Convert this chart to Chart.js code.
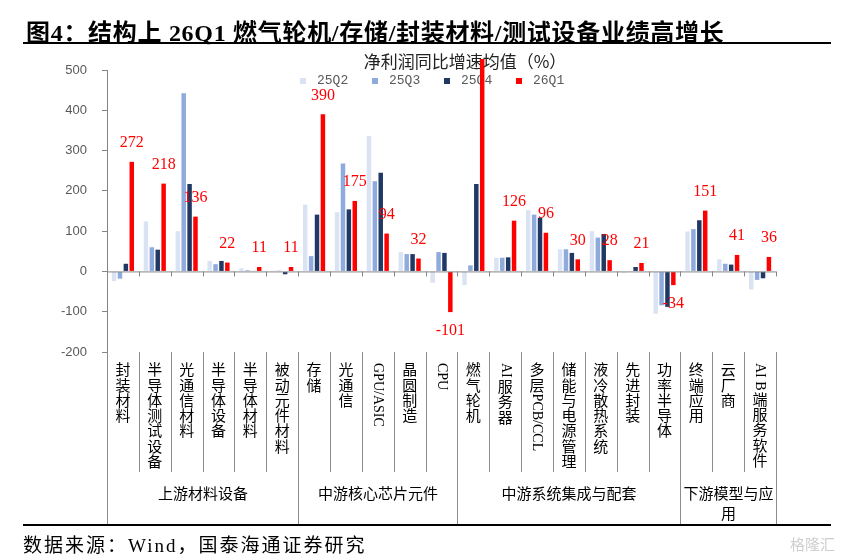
<!DOCTYPE html>
<html>
<head>
<meta charset="utf-8">
<script src="https://cdn.jsdelivr.net/npm/chart.js@4.4.1/dist/chart.umd.min.js"></script>
<style>
  body { margin: 0; background: #fff; }
  #wrap { position: relative; width: 852px; height: 558px; overflow: hidden; }
  #fig-title { position: absolute; left: 26px; top: 13px; line-height: 1; white-space: nowrap;
    font: bold 24px "Liberation Serif", "Noto Sans CJK SC"; letter-spacing: 0.7px; color: #000; }
  .rule { position: absolute; left: 23px; width: 808px; height: 2px; background: #000; }
  #source { position: absolute; left: 23px; top: 530px; line-height: 1; white-space: nowrap;
    font: 19px "Liberation Serif", "Noto Sans CJK SC"; letter-spacing: 2px; color: #000; }
  #mark { position: absolute; left: 790px; top: 533px; font: 15px "Noto Sans CJK SC"; color: #cfcfcf; }
  canvas { position: absolute; left: 0; top: 0; }
</style>
</head>
<body>
<div id="wrap">
  <canvas id="bars" width="852" height="558"></canvas>
  <div id="fig-title">图4：结构上 26Q1 燃气轮机/存储/封装材料/测试设备业绩高增长</div>
  <div class="rule" style="top:42px"></div>
  <div class="rule" style="top:524px"></div>
  <div id="source">数据来源：Wind，国泰海通证券研究</div>
  <div id="mark">格隆汇</div>
</div>
<script>
const chartTitle = "净利润同比增速均值（%）";
const categories = ["封装材料", "半导体测试设备", "光通信材料", "半导体设备", "半导体材料", "被动元件材料",
  "存储", "光通信", "GPU/ASIC", "晶圆制造", "CPU",
  "燃气轮机", "AI服务器", "多层PCB/CCL", "储能与电源管理", "液冷散热系统", "先进封装", "功率半导体",
  "终端应用", "云厂商", "AI B端服务软件"];
const groupNames = ["上游材料设备", "中游核心芯片元件", "中游系统集成与配套", "下游模型与应用"];
const groupSizes = [6, 5, 7, 3];
const seriesNames = ["25Q2", "25Q3", "25Q4", "26Q1"];
const q225 = [-24, 124, 100, 26, 8, 2, 166, 147, 336, 48, -28, -34, 34, 152, 55, 100, -3, -105, 99, 30, -45];
const q325 = [-18, 60, 442, 18, 3, 2, 38, 268, 224, 43, 48, 15, 34, 141, 55, 84, 1, -84, 105, 19, -21];
const q425 = [19, 54, 217, 26, 1, -7, 141, 154, 245, 43, 46, 217, 35, 133, 46, 93, 11, -88, 127, 17, -17];
const q126 = [272, 218, 136, 22, 11, 11, 390, 175, 94, 32, -101, 600, 126, 96, 30, 28, 21, -34, 151, 41, 36];
const yTicks = [-200, 500, 100]; // min, max, step

const colors = ["#DAE3F3", "#8FAADC", "#203864", "#FF0000"];
const cjk = '"Noto Sans CJK SC"';
const lineGray = "#8c8c8c";

// everything around the bars: title, legend, zero axis, labels, category table
const deco = {
  id: "deco",
  beforeDatasetsDraw(chart) {
    const { ctx, chartArea: ca } = chart;
    ctx.save();
    ctx.fillStyle = "#222";
    ctx.font = "17px " + cjk;
    ctx.textAlign = "center";
    ctx.textBaseline = "middle";
    ctx.fillText(chartTitle, ca.left + 358, 62);

    ctx.font = '13px "Liberation Mono"';
    ctx.textAlign = "left";
    chart.data.datasets.forEach((ds, i) => {
      const x = ca.left + 193 + i * 72;
      ctx.fillStyle = ds.backgroundColor;
      ctx.fillRect(x, 78, 6, 6);
      ctx.fillStyle = "#595959";
      ctx.fillText(ds.label, x + 17, 81);
    });
    ctx.restore();
  },
  afterDatasetsDraw(chart) {
    const { ctx, chartArea: ca, scales: { x, y } } = chart;
    const y0 = y.getPixelForValue(0);
    const w = x.getPixelForValue(1) - x.getPixelForValue(0);
    ctx.save();
    ctx.strokeStyle = "#868686";
    ctx.lineWidth = 1;
    ctx.beginPath();
    ctx.moveTo(ca.left, y0 + 0.5);
    ctx.lineTo(ca.right, y0 + 0.5);
    for (let i = 1; i <= categories.length; i++) {
      const bx = Math.round(x.getPixelForValue(i) - w / 2) + 0.5;
      ctx.moveTo(bx, y0);
      ctx.lineTo(bx, y0 + 5);
    }
    ctx.stroke();

    // red value labels on 26Q1
    const meta = chart.getDatasetMeta(3);
    ctx.fillStyle = "#FF0000";
    ctx.font = '16px "Liberation Serif"';
    ctx.textAlign = "center";
    ctx.textBaseline = "middle";
    q126.forEach((v, i) => {
      if (v > y.max) return;
      const el = meta.data[i];
      ctx.fillText(String(v), el.x, v >= 0 ? el.y - 19 : el.y + 19);
    });
    ctx.restore();
  },
  afterDraw(chart) {
    const { ctx, chartArea: ca, scales: { x } } = chart;
    const w = x.getPixelForValue(1) - x.getPixelForValue(0);
    const edge = i => Math.round(x.getPixelForValue(i) - w / 2) + 0.5;
    ctx.save();

    // separators of the label table
    const groupEnds = [];
    groupSizes.reduce((s, n) => { groupEnds.push(s + n); return s + n; }, 0);
    ctx.strokeStyle = lineGray;
    ctx.lineWidth = 1;
    ctx.beginPath();
    ctx.moveTo(Math.round(ca.left) + 0.5, ca.bottom);
    ctx.lineTo(Math.round(ca.left) + 0.5, 525);
    for (let i = 1; i <= categories.length; i++) {
      ctx.moveTo(edge(i), ca.bottom);
      ctx.lineTo(edge(i), groupEnds.includes(i) ? 525 : 472);
    }
    ctx.stroke();

    // category names: CJK stacked upright, latin runs turned
    ctx.fillStyle = "#000";
    categories.forEach((name, i) => {
      const cx = x.getPixelForValue(i);
      let yy = 363;
      const runs = name.match(/[\x00-\x7F]+|[^\x00-\x7F]/g);
      runs.forEach(r => {
        if (/^[\x00-\x7F]+$/.test(r)) {
          ctx.font = '14px "Liberation Serif"';
          ctx.save();
          ctx.translate(cx, yy);
          ctx.rotate(Math.PI / 2);
          ctx.textAlign = "left";
          ctx.textBaseline = "middle";
          ctx.fillText(r, 0, 0);
          ctx.restore();
          yy += ctx.measureText(r).width + 2;
        } else {
          ctx.font = "15px " + cjk;
          ctx.textAlign = "center";
          ctx.textBaseline = "top";
          ctx.fillText(r, cx, yy - 1);
          yy += 15.3;
        }
      });
    });

    // group names, wrapped to group width
    ctx.font = "15px " + cjk;
    ctx.textAlign = "center";
    ctx.textBaseline = "middle";
    let start = 0;
    groupNames.forEach((g, gi) => {
      const l = edge(start), r = edge(start + groupSizes[gi]);
      const lines = [];
      let cur = "";
      for (const ch of g) {
        if (ctx.measureText(cur + ch).width > r - l - 2) { lines.push(cur); cur = ch; } else cur += ch;
      }
      lines.push(cur);
      lines.forEach((t, k) => ctx.fillText(t, (l + r) / 2, 493 + k * 20));
      start += groupSizes[gi];
    });
    ctx.restore();
  }
};

const seriesValues = [q225, q325, q425, q126];

new Chart(document.getElementById("bars"), {
  type: "bar",
  data: {
    labels: categories,
    datasets: seriesNames.map((name, i) => ({
      label: name,
      data: seriesValues[i],
      backgroundColor: colors[i],
      barPercentage: 0.76,
      categoryPercentage: 0.74,
      clip: i === 3 ? { left: 0, top: 11, right: 0, bottom: 0 } : 0
    }))
  },
  options: {
    responsive: false,
    animation: false,
    events: [],
    layout: { padding: { left: 57, right: 76, top: 70, bottom: 206 } },
    plugins: { legend: { display: false }, title: { display: false }, tooltip: { enabled: false } },
    scales: {
      x: { display: false },
      y: {
        min: yTicks[0],
        max: yTicks[1],
        ticks: { stepSize: yTicks[2], color: "#595959", padding: 15,
          font: { family: "Liberation Sans", size: 13 } },
        grid: { drawOnChartArea: false, drawTicks: true, tickLength: 5, color: "#868686" },
        border: { color: "#868686" },
        afterFit(s) { s.width = 50; }
      }
    }
  },
  plugins: [deco]
});
</script>
</body>
</html>
